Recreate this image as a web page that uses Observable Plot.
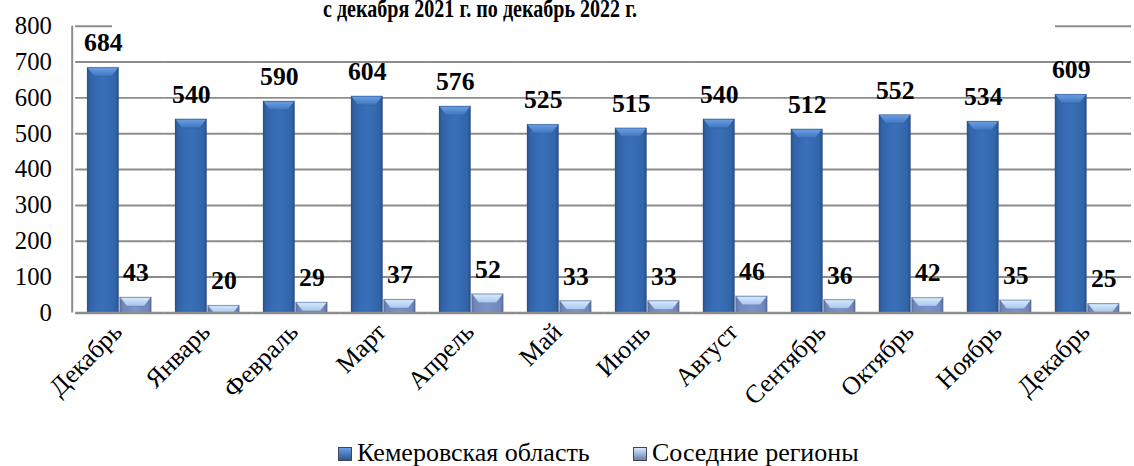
<!DOCTYPE html>
<html>
<head>
<meta charset="utf-8">
<script src="https://cdn.jsdelivr.net/npm/d3@7"></script>
<script src="https://cdn.jsdelivr.net/npm/@observablehq/plot@0.6"></script>
<style>
  html, body { margin: 0; padding: 0; background: #fff; overflow: hidden; width: 1134px; height: 466px; }
  #wrap { position: relative; width: 1134px; height: 466px; }
  #chart { position: absolute; left: 0; top: 0; }
  #title { position: absolute; left: 112px; top: 0; width: 943px; height: 31px; background: #fff; overflow: hidden; }
  #title span { position: absolute; left: 211px; top: -4px; line-height: 26px; font-family: "Liberation Serif"; font-weight: bold; font-size: 26px; white-space: nowrap; transform-origin: left top; color: #000; }
  #legend { position: absolute; top: 440px; left: 0; width: 1134px; height: 26px; font-family: "Liberation Serif"; font-size: 26px; color: #000; }
  .item { position: absolute; top: 0; height: 26px; }
  .sw { position: absolute; left: 0; top: 7px; width: 14px; height: 14px; box-sizing: border-box; }
  .lt { position: absolute; left: 19px; top: 0; line-height: 26px; white-space: nowrap; }
</style>
</head>
<body>
<div id="wrap">
  <div id="chart"></div>
  <div id="title"><span id="titleText">с декабря 2021 г. по декабрь 2022 г.</span></div>
  <div id="legend"></div>
</div>
<script>
const months = ["Декабрь","Январь","Февраль","Март","Апрель","Май","Июнь","Август","Сентябрь","Октябрь","Ноябрь","Декабрь"];
const kemerovo = [684,540,590,604,576,525,515,540,512,552,534,609];
const neighbors = [43,20,29,37,52,33,33,46,36,42,35,25];
const seriesNames = ["Кемеровская область","Соседние регионы"];
const yTicks = [0,100,200,300,400,500,600,700,800];

const data = months.flatMap((m, i) => [
  {i, s: seriesNames[0], v: kemerovo[i]},
  {i, s: seriesNames[1], v: neighbors[i]}
]);

const gridColor = "#8c8c8c";
const serif = "Liberation Serif";

const chart = Plot.plot({
  width: 1147,
  height: 425,
  marginLeft: 73,
  marginRight: 0,
  marginTop: 26,
  marginBottom: 109,
  style: {fontFamily: serif, fontSize: "25px", background: "white", color: "#000", overflow: "visible"},
  fx: {domain: d3.range(months.length), padding: 0, label: null},
  x: {domain: seriesNames, paddingInner: 0.02, paddingOuter: 0.336, axis: null},
  y: {domain: [0, 800], label: null},
  color: {domain: seriesNames, range: ["url(#gK)", "url(#gN)"]},
  marks: [
    Plot.ruleY(yTicks.filter(t => t > 0), {stroke: gridColor, strokeWidth: 2}),
    Plot.barY(data, {fx: "i", x: "s", y: "v", fill: "s", stroke: "#26497e", strokeOpacity: 0.25, strokeWidth: 0.8}),
    Plot.ruleY([0], {stroke: gridColor, strokeWidth: 2.5}),
    Plot.text(data, {fx: "i", x: "s", y: "v", text: d => String(d.v), dy: -25, fontWeight: "bold", fontSize: 26, fill: "#000"}),
    Plot.axisY({ticks: yTicks, tickSize: 0, tickPadding: 24, fontSize: 25, label: null}),
    Plot.axisFx({anchor: "bottom", tickRotate: -45, tickSize: 0, tickPadding: 15, dx: -2, tickFormat: i => months[i], fontSize: 26, label: null})
  ]
});

document.getElementById("chart").appendChild(chart);

const svg = d3.select(chart);
svg.selectAll("g[aria-label='y-axis tick label']").attr("font-size", 25).style("font-size", "25px");
svg.selectAll("g[aria-label='fx-axis tick label']").attr("font-size", 26).style("font-size", "26px");

// gradients
const defs = svg.insert("defs", ":first-child");
function grad(id, stops, vertical) {
  const g = defs.append("linearGradient").attr("id", id)
    .attr("x1", "0").attr("x2", vertical ? "0" : "1").attr("y1", "0").attr("y2", vertical ? "1" : "0");
  stops.forEach(([o, c]) => g.append("stop").attr("offset", o).attr("stop-color", c));
}
grad("gK", [[0, "#28528e"], [0.1, "#3264a8"], [0.5, "#3a70ba"], [0.9, "#3264a8"], [1, "#264d86"]]);
grad("gN", [[0, "#5b6fa2"], [0.1, "#7186ba"], [0.5, "#7e94c6"], [0.9, "#7186ba"], [1, "#586c9e"]]);
grad("bK", [[0, "#6a9fe2"], [1, "#3f76c0"]], true);
grad("bN", [[0, "#d6eafc"], [1, "#a9c5ec"]], true);

// bevel on top of each bar (decorative, derived from rendered bars)
svg.selectAll("g[aria-label='bar'] rect").each(function () {
  const r = d3.select(this);
  const x = +r.attr("x"), yy = +r.attr("y"), w = +r.attr("width"), h = +r.attr("height");
  const isK = (r.attr("fill") || "").includes("gK");
  const bh = Math.min(9, h);
  const inset = Math.min(7, bh * 0.8);
  d3.select(this.parentNode).append("polygon")
    .attr("points", [[x + 0.5, yy + 0.5], [x + w - 0.5, yy + 0.5], [x + w - inset, yy + bh], [x + inset, yy + bh]].map(p => p.join(",")).join(" "))
    .attr("fill", isK ? "url(#bK)" : "url(#bN)")
    .attr("transform", r.attr("transform"));
});

// left axis line
const y = chart.scale("y");
svg.append("line")
  .attr("x1", 73).attr("x2", 73)
  .attr("y1", y.apply(800)).attr("y2", y.apply(0))
  .attr("stroke", gridColor).attr("stroke-width", 2);

// title scaling
const tt = document.getElementById("titleText");
const w = tt.getBoundingClientRect().width;
tt.style.transform = `scaleX(${314 / w})`;

// legend
const legend = document.getElementById("legend");
const items = [
  {name: seriesNames[0], left: 338, bg: "linear-gradient(#6a9fe2, #2a5592)"},
  {name: seriesNames[1], left: 633, bg: "linear-gradient(#d6eafc, #6a7fb2)"}
];
items.forEach(it => {
  const d = document.createElement("div");
  d.className = "item";
  d.style.left = it.left + "px";
  const sw = document.createElement("div");
  sw.className = "sw";
  sw.style.background = it.bg;
  sw.style.border = "1px solid #445";
  const t = document.createElement("span");
  t.className = "lt";
  t.textContent = it.name;
  d.appendChild(sw);
  d.appendChild(t);
  legend.appendChild(d);
});
</script>
</body>
</html>
